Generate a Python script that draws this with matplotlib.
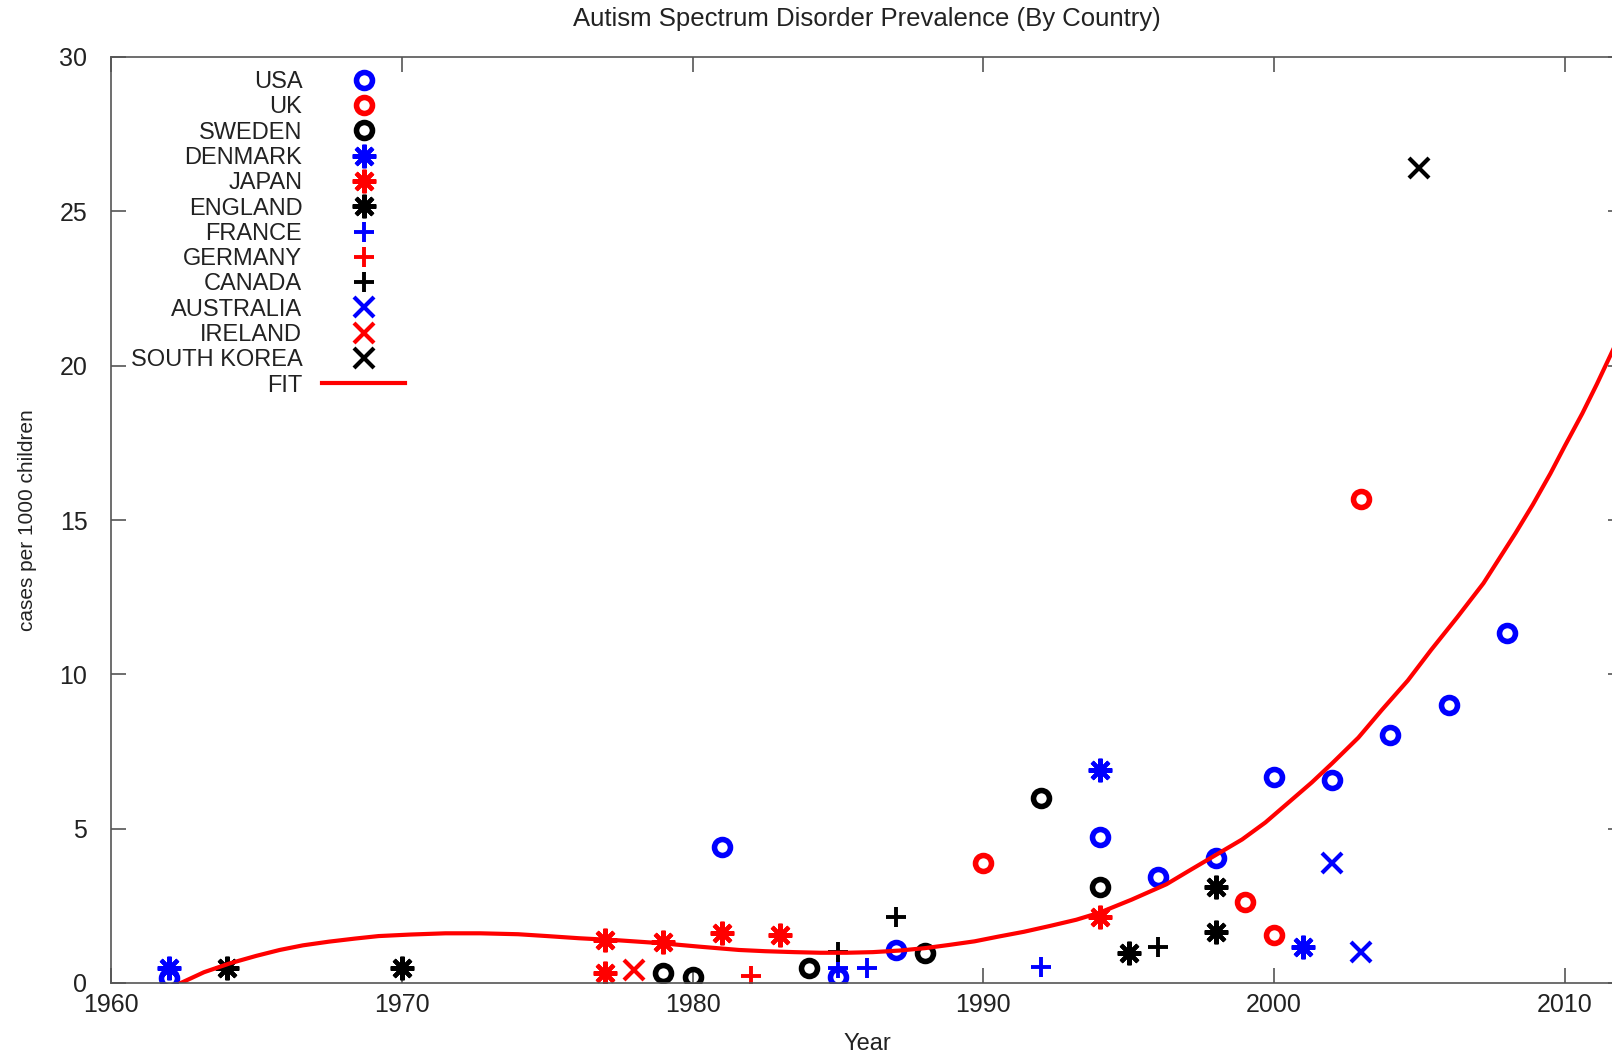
import matplotlib
matplotlib.use('Agg')
import matplotlib.pyplot as plt

# cases per 1000 children, by year of study
usa_year = [1962, 1981, 1985, 1987, 1994, 1996, 1998, 2000, 2002, 2004, 2006, 2008]
usa_val = [0.15, 4.4, 0.2, 1.07, 4.74, 3.44, 4.04, 6.68, 6.58, 8.03, 9.0, 11.33]
uk_year = [1990, 1999, 2000, 2003]
uk_val = [3.88, 2.63, 1.55, 15.68]
sweden_year = [1979, 1980, 1984, 1988, 1992, 1994]
sweden_val = [0.33, 0.2, 0.48, 0.96, 6.0, 3.12]
denmark_year = [1962, 1994, 2001]
denmark_val = [0.48, 6.9, 1.18]
japan_year = [1977, 1977, 1979, 1981, 1983, 1994]
japan_val = [1.39, 0.31, 1.34, 1.61, 1.55, 2.15]
england_year = [1964, 1970, 1995, 1998, 1998]
england_val = [0.48, 0.48, 0.96, 3.12, 1.66]
france_year = [1985, 1986, 1992]
france_val = [0.48, 0.48, 0.53]
germany_year = [1982]
germany_val = [0.23]
canada_year = [1985, 1987, 1996]
canada_val = [1.01, 2.15, 1.18]
australia_year = [2002, 2003]
australia_val = [3.88, 1.01]
ireland_year = [1978]
ireland_val = [0.42]
skorea_year = [2005]
skorea_val = [26.39]

# fitted trend curve
fit_year = [1962.4, 1963.2, 1964.1, 1965.0, 1965.8, 1966.6, 1967.5, 1968.4,
            1969.2, 1970.3, 1971.5, 1972.7, 1974.0, 1975.0, 1976.1, 1977.5,
            1978.9, 1980.2, 1981.6, 1982.5, 1983.5, 1984.4, 1985.3, 1986.2,
            1987.1, 1988.0, 1988.8, 1989.7, 1990.5, 1991.4, 1992.3, 1993.2,
            1994.0, 1995.1, 1996.3, 1997.1, 1998.0, 1998.9, 1999.7, 2000.5,
            2001.3, 2002.0, 2002.9, 2003.7, 2004.6, 2005.4, 2006.3, 2007.2,
            2008.3, 2008.9, 2009.5, 2010.0, 2010.6, 2011.1, 2011.6, 2012.2]
fit_val = [0.0, 0.35, 0.64, 0.88, 1.07, 1.22, 1.34, 1.44,
           1.52, 1.57, 1.61, 1.61, 1.58, 1.52, 1.45, 1.38,
           1.29, 1.18, 1.07, 1.03, 1.0, 0.98, 0.98, 1.0,
           1.05, 1.13, 1.23, 1.35, 1.50, 1.66, 1.85, 2.05,
           2.28, 2.7, 3.2, 3.65, 4.15, 4.65, 5.2, 5.85,
           6.5, 7.12, 7.95, 8.84, 9.8, 10.79, 11.85, 12.95,
           14.57, 15.5, 16.5, 17.4, 18.45, 19.4, 20.4, 21.6]

star = (8, 2, 0)
series = [
    ('USA', usa_year, usa_val, 'o', 'blue'),
    ('UK', uk_year, uk_val, 'o', 'red'),
    ('SWEDEN', sweden_year, sweden_val, 'o', 'black'),
    ('DENMARK', denmark_year, denmark_val, star, 'blue'),
    ('JAPAN', japan_year, japan_val, star, 'red'),
    ('ENGLAND', england_year, england_val, star, 'black'),
    ('FRANCE', france_year, france_val, '+', 'blue'),
    ('GERMANY', germany_year, germany_val, '+', 'red'),
    ('CANADA', canada_year, canada_val, '+', 'black'),
    ('AUSTRALIA', australia_year, australia_val, 'x', 'blue'),
    ('IRELAND', ireland_year, ireland_val, 'x', 'red'),
    ('SOUTH KOREA', skorea_year, skorea_val, 'x', 'black'),
]
msize = {'o': 11.5, '+': 15, 'x': 15, star: 17}
mwidth = {'o': 4.0, '+': 2.8, 'x': 3.0, star: 3.0}

plt.rcParams['font.family'] = ['Liberation Sans', 'DejaVu Sans']
narrow = ['Liberation Sans Narrow', 'Liberation Sans']

fig = plt.figure(figsize=(16.12, 10.55), dpi=100)
ax = fig.add_axes([111 / 1612, 72 / 1055, 1512 / 1612, 926 / 1055])

handles = []
for name, xs, ys, m, c in series:
    h, = ax.plot(xs, ys, linestyle='none', marker=m, markersize=msize[m],
                 markerfacecolor='none', markeredgecolor=c,
                 markeredgewidth=mwidth[m], label=name)
    handles.append(h)
fit_line, = ax.plot(fit_year, fit_val, color='red', linewidth=3, label='FIT')
handles.append(fit_line)

ax.set_xlim(1960, 2012)
ax.set_ylim(0, 30)
ax.set_xticks(range(1960, 2011, 10))
ax.set_yticks(range(0, 31, 5))

grey = '#555555'
for s in ax.spines.values():
    s.set_color(grey)
    s.set_linewidth(1.2)
ax.tick_params(direction='in', length=10.8, width=1.2, color=grey,
               top=True, right=True, labelsize=18, labelcolor='#222222')
ax.tick_params(axis='y', pad=17)
ax.tick_params(axis='x', pad=7)

ax.set_title('Autism Spectrum Disorder Prevalence (By Country)',
             family=narrow, fontsize=18.5, color='#222222', pad=22)
ax.set_xlabel('Year', family=narrow, fontsize=17, color='#222222', labelpad=12)
ax.set_ylabel('cases per 1000 children', family=narrow, fontsize=15,
              color='#222222', labelpad=16)

ax.legend(handles=handles, markerfirst=False, frameon=False,
          loc='upper right', bbox_to_anchor=(405 / 1612, 1 - 71 / 1055),
          bbox_transform=fig.transFigure, borderpad=0, borderaxespad=0,
          fontsize=17, handlelength=3.5, handletextpad=0.85,
          labelspacing=0.14, numpoints=1, labelcolor='#222222')

fig.savefig('out.png', dpi=100)
